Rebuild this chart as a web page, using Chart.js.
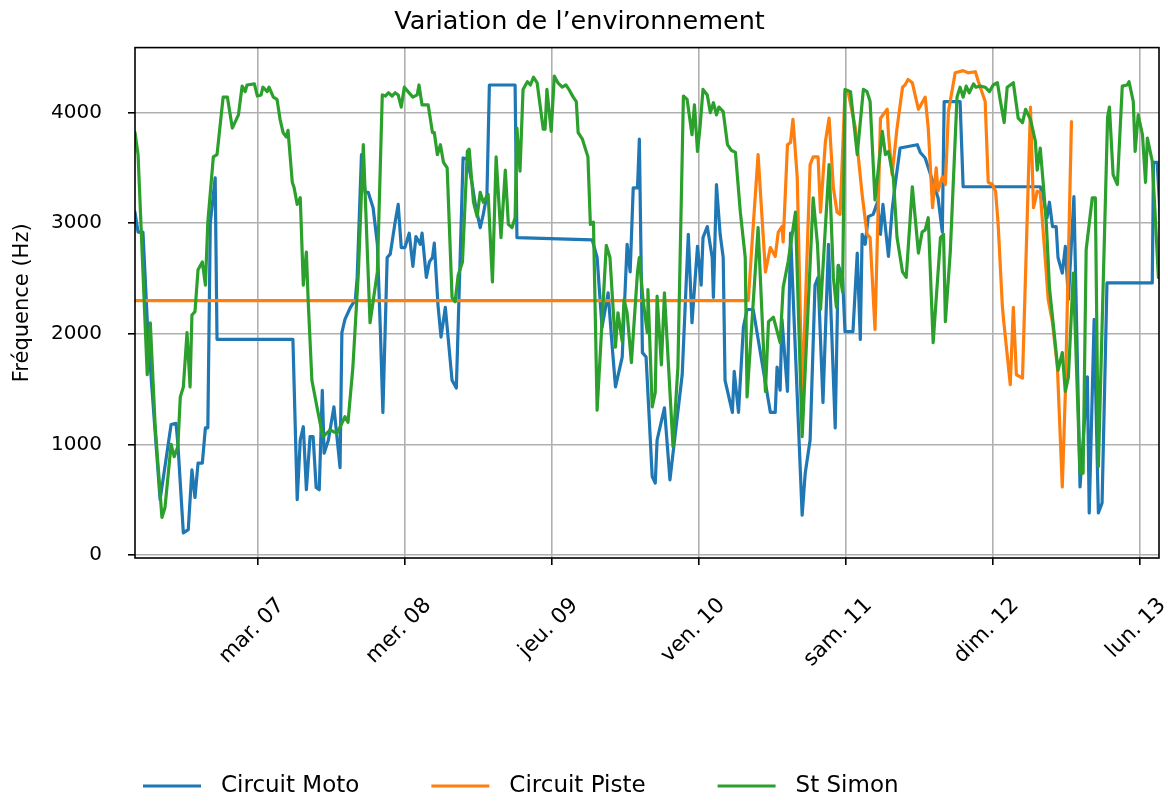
<!DOCTYPE html>
<html lang="fr">
<head>
<meta charset="UTF-8">
<title>Variation de l'environnement</title>
<script src="https://cdn.jsdelivr.net/npm/chart.js@4.4.0/dist/chart.umd.min.js"></script>
<style>
  html, body { margin: 0; padding: 0; background: #fff; }
  canvas { display: block; }
</style>
</head>
<body>
<canvas id="envChart" width="1168" height="801"></canvas>
<script>
// time axis in hours since Monday 06 00:00
const dayTicks = [24, 48, 72, 96, 120, 144, 168];
const dayLabels = ['mar. 07', 'mer. 08', 'jeu. 09', 'ven. 10', 'sam. 11', 'dim. 12', 'lun. 13'];
const hzTicks = [0, 1000, 2000, 3000, 4000];

const motoHours = [3.9,4.4,5.2,6.0,8.0,9.8,10.6,10.9,11.8,12.6,13.2,13.7,14.2,14.9,15.4,15.8,16.2,17.0,17.3,
  29.7,30.4,30.9,31.4,31.9,32.5,33.0,33.5,34.0,34.5,34.8,35.5,36.4,37.4,37.7,38.2,39.1,39.9,40.2,40.9,41.5,
  42.0,42.8,43.5,44.0,44.4,45.1,45.6,46.4,46.9,47.4,48.0,48.7,49.3,49.8,50.5,50.8,51.5,52.0,52.5,52.8,53.4,
  53.9,54.6,55.7,56.4,57.5,58.2,59.0,59.5,60.3,60.8,61.4,61.8,66.0,66.3,78.6,79.4,80.2,81.2,81.9,82.4,83.5,
  84.3,84.8,85.3,86.0,86.3,86.8,87.4,88.4,88.9,89.2,90.4,91.3,91.8,93.3,94.3,94.9,95.8,96.4,96.7,97.4,98.2,
  98.4,98.9,99.5,100.0,100.3,101.5,101.8,102.5,103.3,103.9,104.9,107.7,108.5,108.8,109.3,109.6,110.5,111.0,
  112.9,113.4,114.2,115.0,115.5,116.3,117.2,118.3,118.8,119.5,119.9,121.2,121.9,122.4,122.7,123.2,123.7,
  124.5,125.2,125.7,126.1,127.0,127.6,128.1,128.9,131.7,132.2,133.0,135.1,135.8,136.1,138.7,139.2,151.8,
  152.3,152.9,153.3,153.8,154.4,154.7,155.4,155.9,156.4,157.3,158.3,159.5,159.8,160.6,161.3,161.9,162.7,
  170.1,170.3,170.9,171.4];
const motoHz = [3100,2920,2920,2010,500,1180,1190,1010,200,230,770,520,830,830,1150,1150,3000,3410,1950,
  1950,500,1040,1160,590,1070,1070,610,590,1490,920,1040,1340,790,2010,2130,2240,2310,2510,3620,3280,
  3280,3140,2810,2010,1290,2690,2720,3010,3170,2780,2780,2910,2610,2880,2810,2910,2510,2650,2690,2820,2260,
  1970,2240,1580,1510,3590,3580,3350,3170,2960,3080,3260,4250,4250,2870,2850,2690,2060,2370,1860,1520,1790,
  2810,2560,3320,3320,3760,1830,1790,710,650,1040,1330,680,920,1630,2900,2100,2790,2440,2870,2970,2690,
  2330,3350,2900,2690,1580,1290,1660,1290,2060,2220,2220,1290,1290,1700,1490,2130,1480,2910,
  360,740,1040,2440,2510,1380,2810,1150,2620,2510,2020,2020,2730,1950,2900,2810,3060,
  3080,3190,2900,3170,2700,3120,3350,3680,3710,3640,3590,3230,2920,4100,4100,3330,3330,
  3230,3050,3190,2970,2970,2690,2550,2790,2310,3240,615,1610,380,2130,380,470,2460,
  2460,3550,3550,3050];

const pisteHours = [3.9,104.1,104.7,105.7,106.9,107.7,108.5,109.0,109.6,109.8,110.5,111.0,111.4,112.1,112.9,
  114.2,114.7,115.5,115.9,116.7,117.3,118.0,118.6,119.1,119.9,120.4,121.6,122.7,123.5,124.0,124.8,125.7,
  126.8,127.0,127.6,128.4,129.3,129.7,130.2,130.9,131.9,133.0,133.5,134.2,134.8,135.1,135.8,136.3,136.8,
  137.9,139.2,140.0,141.2,141.7,142.8,143.3,144.0,144.5,144.9,145.6,145.8,146.9,147.4,147.9,148.9,150.2,
  150.7,151.3,151.8,152.6,153.1,153.8,154.6,155.4,155.9,156.9];
const pisteHz = [2300,2300,2810,3620,2560,2780,2700,2920,2970,2830,3710,3730,3940,3410,1400,
  3530,3600,3600,3100,3740,3950,3320,3100,3080,4190,4190,3860,3260,2900,2870,2040,3950,
  4030,3800,3440,3860,4230,4250,4300,4270,4030,4140,3860,3140,3500,3290,3420,3350,4010,
  4360,4380,4360,4370,4280,4100,3370,3350,3290,3010,2260,2130,1540,2240,1630,1600,4050,
  3140,3290,3280,2690,2310,2100,1700,615,1470,3920];

const simonHours = [3.9,4.4,5.9,6.4,7.2,8.3,8.8,9.8,10.3,10.9,11.3,11.8,12.4,12.9,13.2,13.7,14.2,14.9,15.4,
  15.8,16.7,17.3,18.3,19.0,19.8,20.8,21.4,21.9,22.2,23.4,23.9,24.5,24.8,25.5,25.8,26.5,27.1,27.6,28.1,28.6,
  28.9,29.6,29.9,30.4,30.9,31.4,31.9,32.2,32.8,33.8,34.6,35.8,36.9,38.2,38.7,39.5,40.4,41.2,42.3,43.5,44.3,
  44.8,45.3,45.9,46.4,46.9,47.4,47.9,48.5,49.3,50.0,50.3,50.8,51.8,52.5,52.8,53.3,53.8,54.3,54.9,55.7,56.2,
  56.7,57.4,58.2,58.5,59.2,59.8,60.3,60.8,61.6,62.3,62.9,63.7,64.4,64.9,65.5,66.0,66.3,66.8,67.3,68.0,68.5,
  69.0,69.6,70.6,70.9,71.2,71.9,72.4,73.0,73.7,74.3,74.8,75.5,76.0,76.3,77.0,77.9,78.3,78.8,79.4,80.9,81.5,
  82.4,82.8,83.5,83.8,84.3,85.0,86.0,86.3,86.9,87.6,87.7,88.4,88.9,89.2,89.9,90.4,91.8,92.6,93.5,94.1,94.9,
  95.3,95.8,96.2,96.7,97.4,97.9,98.4,98.9,99.3,100.0,100.7,101.3,102.0,102.8,103.6,103.9,105.7,106.9,107.4,
  108.2,109.3,109.8,110.6,111.8,112.9,114.7,115.4,115.9,117.3,118.0,118.5,118.8,119.5,119.9,120.8,121.9,
  122.9,123.5,124.0,124.8,126.0,126.5,127.0,127.8,128.4,129.3,129.9,130.9,131.9,132.5,133.0,133.5,134.3,
  135.5,136.0,136.3,137.1,138.2,138.7,139.2,139.7,140.2,140.9,141.3,142.0,142.8,143.5,144.1,144.8,145.3,
  145.9,146.4,147.4,148.2,148.9,149.4,150.2,151.0,151.3,151.8,152.3,152.8,153.3,154.7,155.4,155.9,156.4,
  157.2,158.3,158.8,159.3,160.3,160.8,161.3,162.8,163.1,163.7,164.4,165.2,166.0,166.3,167.0,167.3,167.8,
  168.5,169.0,169.3,170.1,170.6,171.1];
const simonHz = [3820,3620,1630,2100,1160,340,430,1000,890,980,1430,1520,2010,1520,2170,2200,2580,2650,2440,
  3010,3600,3620,4140,4140,3860,3980,4240,4190,4250,4260,4150,4160,4230,4190,4230,4140,4120,3940,3820,3780,
  3840,3370,3320,3170,3230,2440,2740,2290,1580,1290,1070,1130,1100,1250,1200,1700,2560,3710,2100,2560,4160,
  4150,4180,4150,4180,4160,4050,4230,4190,4140,4160,4250,4070,4070,3820,3820,3620,3710,3550,3500,2330,2290,
  2530,2650,3650,3670,3190,3060,3280,3190,3260,2470,3600,2870,3480,2990,2960,3050,3860,3470,4210,4280,4250,
  4320,4270,3850,3850,4210,3830,4330,4270,4230,4250,4210,4140,4100,3820,3760,3600,2990,3010,1310,2800,2690,
  1880,2190,1930,2310,2190,1740,2560,2690,2310,2010,2400,1340,1470,2340,1720,2370,980,1700,4150,4120,3800,
  4070,3650,3860,4210,4160,4000,4090,3980,4050,4010,3710,3660,3640,3100,2690,1430,2960,1480,2110,
  2150,1920,2420,2650,3100,1070,3230,2810,2220,3530,2510,2240,2620,2380,4210,4190,3620,
  4210,4190,4100,3210,3830,3620,3650,3410,2870,2560,2510,3330,2730,2920,2940,3050,1920,
  2870,2900,2110,2740,4140,4230,4140,4240,4180,4260,4230,4240,4230,4190,4250,4270,4100,
  3910,4230,4270,3950,3910,4030,3940,3740,3480,3680,3350,2990,2420,1670,1830,1480,1610,
  2550,740,740,2760,3230,3230,800,3960,4050,3440,3350,4240,4250,4280,4100,3650,3980,
  3800,3370,3770,3560,3050,2510];

const FONT = "'DejaVu Sans', sans-serif";

function toPoints(hours, values) {
    return hours.map((h, i) => ({ x: h, y: values[i] }));
}

// black frame around the plot area (like matplotlib spines)
const framePlugin = {
    id: 'frame',
    afterDatasetsDraw(chart) {
        const { ctx, chartArea: a } = chart;
        ctx.save();
        ctx.strokeStyle = '#000';
        ctx.lineWidth = 1.6;
        ctx.strokeRect(a.left, a.top, a.right - a.left, a.bottom - a.top);
        ctx.restore();
    }
};

// legend in one row at the bottom, left aligned
const bottomLegend = {
    id: 'bottomLegend',
    afterDraw(chart) {
        const ctx = chart.ctx;
        ctx.save();
        ctx.font = '23px ' + FONT;
        ctx.textBaseline = 'middle';
        ctx.textAlign = 'left';
        let x = 143;
        const y = 786;
        chart.data.datasets.forEach(ds => {
            ctx.strokeStyle = ds.borderColor;
            ctx.lineWidth = 3.2;
            ctx.beginPath();
            ctx.moveTo(x, y);
            ctx.lineTo(x + 58, y);
            ctx.stroke();
            ctx.fillStyle = '#000';
            ctx.fillText(ds.label, x + 78, y);
            x += 78 + ctx.measureText(ds.label).width + 72;
        });
        ctx.restore();
    }
};

const ctx = document.getElementById('envChart').getContext('2d');
new Chart(ctx, {
    type: 'line',
    data: {
        datasets: [{
            label: 'Circuit Moto',
            data: toPoints(motoHours, motoHz),
            borderColor: '#1f77b4',
            backgroundColor: '#1f77b4',
            order: 3
        }, {
            label: 'Circuit Piste',
            data: toPoints(pisteHours, pisteHz),
            borderColor: '#ff7f0e',
            backgroundColor: '#ff7f0e',
            order: 2
        }, {
            label: 'St Simon',
            data: toPoints(simonHours, simonHz),
            borderColor: '#2ca02c',
            backgroundColor: '#2ca02c',
            order: 1
        }]
    },
    options: {
        responsive: false,
        animation: false,
        devicePixelRatio: 1,
        elements: {
            point: { radius: 0 },
            line: { borderWidth: 3.2, tension: 0, borderJoinStyle: 'round', borderCapStyle: 'round', fill: false }
        },
        layout: { padding: { top: 0, right: 9, bottom: 0, left: 0 } },
        plugins: {
            legend: { display: false },
            tooltip: { enabled: false },
            title: {
                display: true,
                text: 'Variation de l’environnement',
                color: '#000',
                font: { family: FONT, size: 25.5, weight: 'normal' },
                padding: { top: 7, bottom: 10 }
            }
        },
        scales: {
            x: {
                type: 'linear',
                min: 3.9,
                max: 171.2,
                afterBuildTicks: scale => { scale.ticks = dayTicks.map(v => ({ value: v })); },
                afterFit: scale => {
                    scale.height = 243;
                    scale.paddingLeft = 0;
                    scale.paddingRight = 0;
                },
                border: { display: false },
                grid: { color: '#b0b0b0', lineWidth: 1.6, tickColor: '#000', tickLength: 7, tickWidth: 1.6 },
                ticks: {
                    autoSkip: false,
                    minRotation: 45,
                    maxRotation: 45,
                    labelOffset: 23,
                    padding: 28,
                    color: '#000',
                    font: { family: FONT, size: 21.5 },
                    callback: (value, index) => dayLabels[index]
                }
            },
            y: {
                min: -27,
                max: 4588,
                afterBuildTicks: scale => { scale.ticks = hzTicks.map(v => ({ value: v })); },
                afterFit: scale => {
                    scale.width = 135;
                    scale.paddingTop = 0;
                    scale.paddingBottom = 0;
                },
                border: { display: false },
                grid: { color: '#b0b0b0', lineWidth: 1.6, tickColor: '#000', tickLength: 7, tickWidth: 1.6 },
                ticks: {
                    padding: 26,
                    color: '#000',
                    font: { family: FONT, size: 20 },
                    callback: value => String(value)
                },
                title: {
                    display: true,
                    text: 'Fréquence (Hz)',
                    color: '#000',
                    font: { family: FONT, size: 21 },
                    padding: { top: 10, bottom: 0 }
                }
            }
        }
    },
    plugins: [framePlugin, bottomLegend]
});
</script>
</body>
</html>
